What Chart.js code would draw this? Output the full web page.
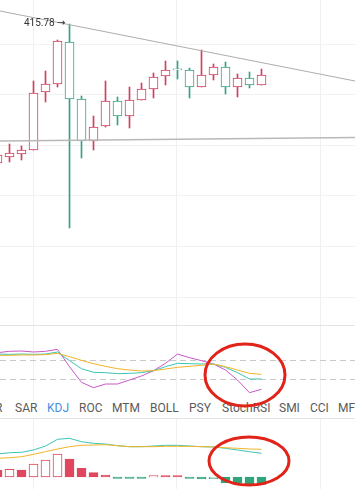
<!DOCTYPE html>
<html>
<head>
<meta charset="utf-8">
<script src="https://cdn.jsdelivr.net/npm/chart.js@4.4.1/dist/chart.umd.min.js"></script>
<style>
html, body { margin: 0; padding: 0; background: #fff; }
#wrap { position: relative; width: 355px; height: 489px; overflow: hidden; font-family: Roboto, "Noto Sans", sans-serif; }
canvas { position: absolute; left: 0; }
.sep { position: absolute; left: 0; width: 355px; height: 1px; background: #e3e3e3; }
.tab { position: absolute; top: 401px; line-height: 15px; font-size: 12px; color: #5a5a5a; white-space: nowrap; }
.tab.on { color: #4a8fdc; }
</style>
</head>
<body>
<div id="wrap">
  <canvas id="mainChart" width="355" height="325" style="top:0"></canvas>
  <div class="sep" style="top:325px"></div>
  <canvas id="kdjChart" width="355" height="75" style="top:326px"></canvas>
  <div id="tabs"></div>
  <div class="sep" style="top:418px"></div>
  <canvas id="macdChart" width="355" height="70" style="top:419px"></canvas>
  <svg width="355" height="489" style="position:absolute;left:0;top:0;pointer-events:none">
    <ellipse cx="245" cy="375" rx="40" ry="31" fill="none" stroke="#e2231a" stroke-width="3"/>
    <ellipse cx="249" cy="461" rx="40" ry="24" fill="none" stroke="#e2231a" stroke-width="3"/>
  </svg>
</div>
<script>
// --- DATI ---
const candleIdx = [-1, 0, 1, 2, 3, 4, 5, 6, 7, 8, 9, 10, 11, 12, 13, 14, 15, 16, 17, 18, 19, 20, 21];
const openP  = [388.0, 389.2, 389.8, 390.6, 402.2, 403.8, 412.2, 400.8, 392.4, 395.4, 400.4, 397.4, 400.6, 402.8, 405.4, 406.85, 406.6, 403.2, 405.6, 407.2, 403.2, 405.0, 403.6];
const highP  = [390.2, 391.8, 391.4, 404.4, 406.4, 412.6, 415.78, 401.4, 397.4, 404.4, 401.2, 403.2, 404.0, 406.0, 408.4, 408.4, 407.0, 410.6, 407.8, 408.2, 405.8, 406.2, 406.8];
const lowP   = [387.4, 388.2, 388.6, 390.6, 400.2, 403.2, 375.0, 389.0, 390.6, 395.2, 395.6, 395.0, 400.6, 401.0, 403.6, 404.8, 401.0, 403.2, 404.6, 401.8, 401.2, 403.0, 403.6];
const closeP = [389.6, 390.0, 390.6, 402.0, 403.8, 412.4, 400.8, 392.4, 395.2, 400.4, 397.4, 400.6, 402.8, 405.2, 406.6, 406.6, 403.2, 405.6, 407.2, 403.2, 405.0, 403.6, 405.6];

// linee di tendenza (x = indice candela, y = prezzo)
const trendUpper = [[-0.79, 418.4], [28.79, 404.4]];
const trendLower = [[-0.79, 392.4], [28.79, 393.1]];

const kdjK = [98.9, 97.9, 98.9, 97.9, 98.9, 105.3, 77.9, 52.6, 41.1, 40, 36.8, 37.9, 40, 46.3, 58.9, 69.5, 68.4, 67.4, 67.4, 56.8, 40, 20, 20];
const kdjD = [94.7, 94.7, 95.8, 95.8, 96.8, 101, 90.5, 78.9, 68.4, 60, 52.6, 48.4, 45.3, 46.3, 51.6, 56.8, 60, 63.2, 67.4, 58.9, 48.4, 37.9, 34.7];
const kdjJ = [103.2, 107.4, 108.4, 105.3, 107.4, 113.7, 58.9, 9.5, -7.4, 4.2, 4.2, 16.8, 29.5, 46.3, 69.5, 98.9, 87.4, 77.9, 67.4, 48.4, 16.8, -23.2, -12.6];
const kdjLevels = [80, 20];

const macdHist = [0.7, 0.77, 0.7, 1.3, 1.7, 2.3, 1.8, 0.87, 0.43, 0.2, -0.15, -0.15, -0.15, 0.13, 0.13, 0.13, -0.15, -0.2, -0.17, -0.6, -0.6, -0.73, -0.73];
const macdDif  = [2.3, 2.43, 2.47, 2.7, 3.1, 3.77, 3.87, 3.53, 3.37, 3.3, 3.13, 3.03, 3.03, 3.1, 3.17, 3.17, 3.1, 3.03, 3.0, 2.87, 2.7, 2.53, 2.37];
const macdDea  = [1.87, 1.93, 2.03, 2.27, 2.53, 2.8, 3.03, 3.17, 3.2, 3.23, 3.13, 3.03, 3.03, 3.03, 3.07, 3.07, 3.07, 3.03, 3.0, 2.93, 2.87, 2.8, 2.77];

const tabNames = ['R', 'SAR', 'KDJ', 'ROC', 'MTM', 'BOLL', 'PSY', 'StochRSI', 'SMI', 'CCI', 'MF'];
const tabLeft  = [-5, 15, 47, 79, 112, 150, 189, 222, 279, 310, 338];
const activeTab = 'KDJ';

const vGrid = [1.96, 13.92, 25.88];
const priceGrid = [411.6, 401.6, 391.6, 381.6, 371.4, 361.2];

const upRed = '#cf3f60';
const downGreen = '#34a285';
const histRed = '#e0475e';
const histGreen = '#2fa57c';

// --- OPZIONI COMUNI ---
const xMin = -0.7917, xMax = 28.7917;

function xScale() {
    return {
        type: 'linear', min: xMin, max: xMax, offset: false,
        ticks: { display: false },
        grid: { color: '#f0f0f0', drawTicks: false, offset: false },
        border: { display: false },
        afterBuildTicks: s => { s.ticks = vGrid.map(v => ({ value: v })); },
        afterFit: s => { s.height = 0; }
    };
}

const baseOptions = {
    responsive: false,
    animation: false,
    devicePixelRatio: 1,
    layout: { padding: 0 },
    plugins: { legend: { display: false }, tooltip: { enabled: false } }
};

// --- GRAFICO PRINCIPALE (candele) ---
const candleColors = candleIdx.map((_, k) => closeP[k] >= openP[k] ? upRed : downGreen);

const hiLabel = {
    id: 'hiLabel',
    afterDatasetsDraw(chart) {
        const { ctx, scales: { x, y } } = chart;
        const k = highP.indexOf(Math.max(...highP));
        const px = x.getPixelForValue(candleIdx[k]);
        const py = y.getPixelForValue(highP[k]);
        ctx.save();
        ctx.font = '10px Roboto, "DejaVu Sans", sans-serif';
        ctx.fillStyle = '#333';
        ctx.textAlign = 'right';
        ctx.textBaseline = 'middle';
        ctx.fillText(highP[k].toFixed(2) + ' \u2192', px - 4, py - 1);
        ctx.restore();
    }
};

new Chart(document.getElementById('mainChart'), {
    type: 'bar',
    data: {
        datasets: [
            {
                label: 'wick',
                data: candleIdx.map((x, k) => ({ x: x, y: [lowP[k], highP[k]] })),
                backgroundColor: candleColors,
                borderWidth: 0,
                barThickness: 1,
                grouped: false,
                order: 3
            },
            {
                label: 'body',
                data: candleIdx.map((x, k) => ({ x: x, y: [openP[k], closeP[k]] })),
                backgroundColor: '#fff',
                borderColor: candleColors,
                borderWidth: 1,
                borderSkipped: false,
                barThickness: 9,
                grouped: false,
                order: 2
            },
            {
                type: 'line',
                data: trendUpper.map(p => ({ x: p[0], y: p[1] })),
                borderColor: '#adadad', borderWidth: 1, pointRadius: 0, order: 1
            },
            {
                type: 'line',
                data: trendLower.map(p => ({ x: p[0], y: p[1] })),
                borderColor: '#b8b8b8', borderWidth: 1.3, pointRadius: 0, order: 1
            }
        ]
    },
    options: {
        ...baseOptions,
        scales: {
            x: xScale(),
            y: {
                type: 'linear', min: 355.6, max: 420.6,
                ticks: { display: false },
                grid: { color: '#f2f2f2', drawTicks: false },
                border: { display: false },
                afterBuildTicks: s => { s.ticks = priceGrid.map(v => ({ value: v })); },
                afterFit: s => { s.width = 0; }
            }
        }
    },
    plugins: [hiLabel]
});

// --- PANNELLO KDJ ---
function lineSet(values, color) {
    return {
        data: candleIdx.map((x, k) => ({ x: x, y: values[k] })),
        borderColor: color, borderWidth: 1, pointRadius: 0, tension: 0
    };
}

new Chart(document.getElementById('kdjChart'), {
    type: 'line',
    data: {
        datasets: [
            lineSet(kdjD, '#f2b32a'),
            lineSet(kdjK, '#3cc3b2'),
            lineSet(kdjJ, '#c858c6')
        ]
    },
    options: {
        ...baseOptions,
        scales: {
            x: xScale(),
            y: {
                type: 'linear', min: -49.47, max: 187.37,
                ticks: { display: false },
                grid: { color: '#c9c9c9', drawTicks: false },
                border: { display: false, dash: [6, 4] },
                afterBuildTicks: s => { s.ticks = kdjLevels.map(v => ({ value: v })); },
                afterFit: s => { s.width = 0; }
            }
        }
    }
});

// --- TAB ---
const tabsEl = document.getElementById('tabs');
tabNames.forEach((name, k) => {
    const el = document.createElement('div');
    el.className = 'tab' + (name === activeTab ? ' on' : '');
    el.style.left = tabLeft[k] + 'px';
    el.textContent = name;
    tabsEl.appendChild(el);
});

// --- PANNELLO MACD ---
const histBorder = macdHist.map(v => v >= 0 ? histRed : histGreen);
const histFill = macdHist.map((v, k) => {
    const prev = k > 0 ? macdHist[k - 1] : v;
    if (v >= 0) return v > prev ? '#fff' : histRed;
    return v > prev ? '#fff' : histGreen;
});

new Chart(document.getElementById('macdChart'), {
    type: 'bar',
    data: {
        datasets: [
            {
                data: candleIdx.map((x, k) => ({ x: x, y: macdHist[k] })),
                backgroundColor: histFill,
                borderColor: histBorder,
                borderWidth: 1,
                borderSkipped: false,
                barThickness: 9,
                grouped: false,
                order: 2
            },
            { type: 'line', ...lineSet(macdDea, '#f2b32a'), order: 1 },
            { type: 'line', ...lineSet(macdDif, '#3cc3b2'), order: 1 }
        ]
    },
    options: {
        ...baseOptions,
        scales: {
            x: xScale(),
            y: {
                type: 'linear', min: -1.2, max: 5.8,
                ticks: { display: false },
                grid: { display: false },
                border: { display: false },
                afterFit: s => { s.width = 0; }
            }
        }
    }
});
</script>
</body>
</html>
